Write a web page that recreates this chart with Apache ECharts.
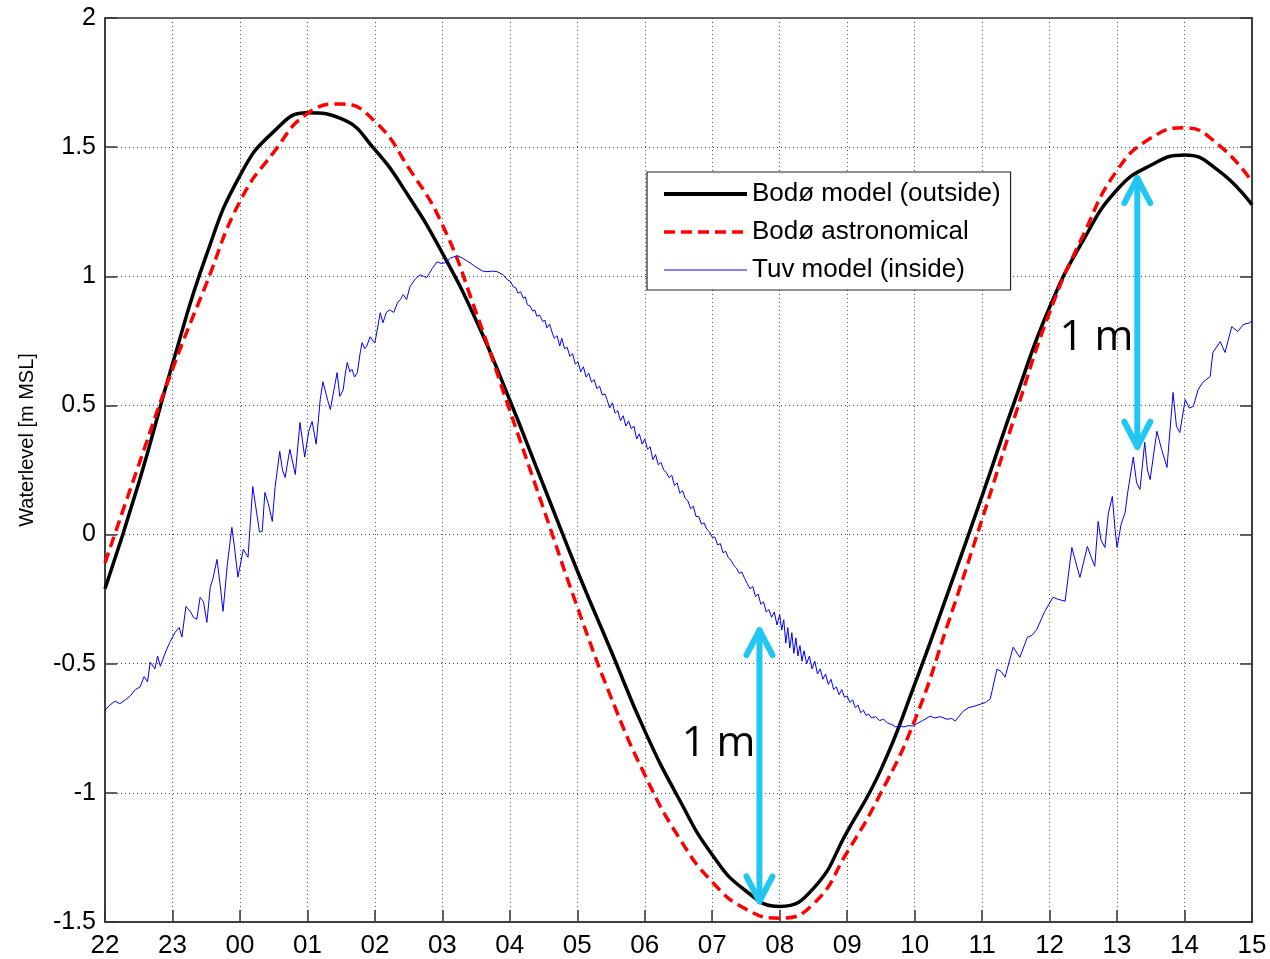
<!DOCTYPE html>
<html>
<head>
<meta charset="utf-8">
<title>Waterlevel</title>
<script src="https://cdn.jsdelivr.net/npm/echarts@6/dist/echarts.min.js"></script>
<style>
  html, body { margin: 0; padding: 0; background: #fff; }
  #main { width: 1270px; height: 959px; }
</style>
</head>
<body>
<div id="main"></div>
<script>
// tick labels of the x axis (hours, 22:00 -> 15:00 next day)
var hourLabels = ['22', '23', '00', '01', '02', '03', '04', '05', '06', '07', '08', '09', '10', '11', '12', '13', '14', '15'];

// hours after 22:00 for the two smooth curves
var modelHours = [0, 0.5, 1, 1.5, 2, 2.5, 3, 3.5, 4, 4.5, 5, 5.5, 6, 6.5, 7, 7.5, 8, 8.5, 9, 9.5,
  10, 10.5, 11, 11.5, 12, 12.5, 13, 13.5, 14, 14.5, 15, 15.5, 16, 16.5, 17];

// Bodø model (outside)
var bodoModel = [-0.21, 0.20, 0.66, 1.08, 1.39, 1.56, 1.633, 1.61, 1.49, 1.31, 1.09, 0.83, 0.52, 0.19, -0.14, -0.45, -0.76, -1.02, -1.24, -1.38,
  -1.44, -1.37, -1.15, -0.91, -0.58, -0.22, 0.15, 0.53, 0.88, 1.14, 1.335, 1.43, 1.47, 1.41, 1.277];

// Bodø astronomical
var bodoAstro = [-0.11, 0.27, 0.64, 0.97, 1.29, 1.48, 1.63, 1.667, 1.60, 1.42, 1.20, 0.86, 0.48, 0.10, -0.28, -0.63, -0.93, -1.17, -1.345, -1.45,
  -1.485, -1.43, -1.23, -1.0, -0.72, -0.34, 0.06, 0.47, 0.86, 1.16, 1.41, 1.535, 1.575, 1.51, 1.366];

// Tuv model (inside) - noisy trace, [hour after 22:00, level]
var tuvTrace = [
  [0, -0.68], [0.07, -0.66], [0.15, -0.645], [0.22, -0.655], [0.3, -0.64], [0.37, -0.626], [0.45, -0.60], [0.52, -0.59], [0.58, -0.55], [0.63, -0.57],
  [0.67, -0.494], [0.74, -0.52], [0.78, -0.47], [0.82, -0.51], [0.89, -0.46], [0.96, -0.417], [1.04, -0.378], [1.1, -0.36], [1.14, -0.397], [1.2, -0.278],
  [1.27, -0.30], [1.31, -0.32], [1.36, -0.328], [1.41, -0.243], [1.46, -0.26], [1.51, -0.34], [1.56, -0.204], [1.6, -0.17], [1.66, -0.096], [1.7, -0.18],
  [1.75, -0.297], [1.81, -0.123], [1.88, 0.028], [1.92, -0.05], [1.97, -0.165], [2.05, -0.057], [2.12, -0.088], [2.19, 0.186], [2.25, 0.08], [2.29, 0.01],
  [2.33, 0.012], [2.37, 0.163], [2.42, 0.12], [2.48, 0.051], [2.52, 0.182], [2.59, 0.322], [2.63, 0.25], [2.67, 0.221], [2.72, 0.3], [2.74, 0.33],
  [2.82, 0.233], [2.89, 0.434], [2.96, 0.30], [3.02, 0.40], [3.07, 0.438], [3.13, 0.35], [3.19, 0.523], [3.23, 0.592], [3.3, 0.52], [3.34, 0.484],
  [3.44, 0.627], [3.48, 0.535], [3.53, 0.56], [3.56, 0.62], [3.59, 0.666], [3.63, 0.63], [3.66, 0.64], [3.7, 0.61], [3.74, 0.627], [3.78, 0.70],
  [3.81, 0.743], [3.85, 0.72], [3.88, 0.73], [3.93, 0.766], [3.97, 0.75], [4.0, 0.743], [4.04, 0.80], [4.08, 0.859], [4.12, 0.82], [4.17, 0.86],
  [4.22, 0.87], [4.28, 0.86], [4.34, 0.90], [4.38, 0.91], [4.42, 0.929], [4.47, 0.91], [4.52, 0.96], [4.6, 0.99], [4.67, 1.006], [4.72, 1.0],
  [4.77, 0.995], [4.85, 1.03], [4.92, 1.056], [4.98, 1.05], [5.04, 1.052], [5.12, 1.07], [5.22, 1.08], [5.3, 1.07], [5.41, 1.052], [5.5, 1.035],
  [5.6, 1.02], [5.66, 1.018], [5.75, 1.02], [5.81, 1.018], [5.9, 1.006], [5.97, 0.985], [6.01, 0.98], [6.05, 0.96], [6.09, 0.955], [6.12, 0.935],
  [6.16, 0.94], [6.2, 0.915], [6.23, 0.92], [6.26, 0.89], [6.3, 0.885], [6.34, 0.865], [6.37, 0.87], [6.4, 0.845], [6.44, 0.85], [6.49, 0.825],
  [6.52, 0.83], [6.55, 0.80], [6.59, 0.815], [6.63, 0.78], [6.66, 0.76], [6.7, 0.77], [6.74, 0.73], [6.77, 0.76], [6.81, 0.72], [6.85, 0.725],
  [6.89, 0.69], [6.93, 0.70], [6.97, 0.66], [7.01, 0.67], [7.05, 0.63], [7.09, 0.65], [7.13, 0.61], [7.17, 0.625], [7.21, 0.59], [7.25, 0.60],
  [7.29, 0.565], [7.33, 0.575], [7.37, 0.54], [7.41, 0.545], [7.44, 0.523], [7.48, 0.49], [7.52, 0.51], [7.56, 0.47], [7.6, 0.48], [7.64, 0.44],
  [7.68, 0.46], [7.72, 0.42], [7.76, 0.44], [7.8, 0.41], [7.84, 0.42], [7.88, 0.37], [7.92, 0.39], [7.96, 0.35], [8.0, 0.37], [8.04, 0.33],
  [8.08, 0.34], [8.12, 0.29], [8.16, 0.31], [8.2, 0.27], [8.24, 0.28], [8.28, 0.25], [8.32, 0.24], [8.36, 0.22], [8.4, 0.23], [8.44, 0.19],
  [8.48, 0.20], [8.52, 0.16], [8.56, 0.17], [8.6, 0.14], [8.64, 0.13], [8.68, 0.10], [8.72, 0.11], [8.76, 0.07], [8.8, 0.07], [8.84, 0.04],
  [8.88, 0.045], [8.92, 0.02], [8.96, 0.01], [9.0, -0.01], [9.04, -0.01], [9.08, -0.04], [9.12, -0.035], [9.16, -0.07], [9.2, -0.065], [9.24, -0.09],
  [9.28, -0.10], [9.32, -0.12], [9.36, -0.13], [9.4, -0.15], [9.44, -0.145], [9.48, -0.17], [9.52, -0.19], [9.56, -0.21], [9.6, -0.20], [9.64, -0.24],
  [9.68, -0.23], [9.72, -0.27], [9.76, -0.26], [9.8, -0.30], [9.84, -0.29], [9.88, -0.32], [9.92, -0.30], [9.96, -0.35], [10.0, -0.31], [10.03, -0.37],
  [10.06, -0.33], [10.09, -0.42], [10.12, -0.36], [10.15, -0.44], [10.18, -0.38], [10.21, -0.46], [10.24, -0.40], [10.27, -0.47], [10.3, -0.43], [10.33, -0.49],
  [10.36, -0.45], [10.4, -0.50], [10.44, -0.47], [10.48, -0.52], [10.52, -0.49], [10.56, -0.54], [10.6, -0.52], [10.64, -0.56], [10.68, -0.54], [10.72, -0.58],
  [10.76, -0.56], [10.8, -0.60], [10.84, -0.59], [10.88, -0.62], [10.92, -0.60], [10.96, -0.63], [11.0, -0.625], [11.04, -0.65], [11.08, -0.64], [11.12, -0.67],
  [11.16, -0.66], [11.2, -0.69], [11.24, -0.68], [11.28, -0.70], [11.32, -0.695], [11.36, -0.71], [11.42, -0.705], [11.48, -0.72], [11.54, -0.715], [11.6, -0.73],
  [11.66, -0.735], [11.72, -0.745], [11.78, -0.74], [11.84, -0.745], [11.9, -0.74], [11.98, -0.741], [12.05, -0.73], [12.12, -0.72], [12.23, -0.703], [12.3, -0.71],
  [12.38, -0.705], [12.48, -0.715], [12.55, -0.712], [12.6, -0.722], [12.72, -0.684], [12.8, -0.67], [12.88, -0.665], [12.97, -0.657], [13.05, -0.65], [13.12, -0.637],
  [13.22, -0.521], [13.28, -0.53], [13.34, -0.552], [13.46, -0.436], [13.52, -0.46], [13.56, -0.475], [13.67, -0.398], [13.74, -0.39], [13.81, -0.367], [13.93, -0.297],
  [14.05, -0.243], [14.12, -0.25], [14.23, -0.258], [14.33, -0.05], [14.38, -0.10], [14.45, -0.166], [14.56, -0.046], [14.62, -0.09], [14.67, -0.123], [14.72, 0.051],
  [14.76, -0.02], [14.82, -0.05], [14.87, 0.08], [14.93, 0.148], [14.97, 0.02], [15.0, -0.05], [15.06, 0.04], [15.12, 0.086], [15.16, 0.167], [15.24, 0.30],
  [15.29, 0.2], [15.34, 0.175], [15.41, 0.357], [15.45, 0.25], [15.49, 0.213], [15.59, 0.40], [15.66, 0.33], [15.74, 0.26], [15.83, 0.55], [15.88, 0.42],
  [15.93, 0.395], [16.01, 0.523], [16.07, 0.49], [16.13, 0.496], [16.2, 0.56], [16.27, 0.589], [16.38, 0.612], [16.42, 0.705], [16.53, 0.747], [16.6, 0.705],
  [16.7, 0.805], [16.79, 0.786], [16.87, 0.813], [16.97, 0.82], [17, 0.83]
];

// "1 m" arrows (hour, top level, bottom level, label level)
var arrowHours = [9.70, 15.30];
var arrowTops = [-0.37, 1.38];
var arrowBottoms = [-1.42, 0.34];
var arrowLabelLevels = [-0.81, 0.76];

function pairs(xs, ys) {
  return xs.map(function (x, i) { return [x, ys[i]]; });
}

var chart = echarts.init(document.getElementById('main'), null, { renderer: 'canvas' });
var axisFont = 'Arial, "Liberation Sans", sans-serif';

var option = {
  backgroundColor: '#ffffff',
  animation: false,
  grid: {
    left: 105, right: 18, top: 18, bottom: 36,
    show: true, borderColor: '#333', borderWidth: 1.5
  },
  legend: {
    orient: 'vertical',
    left: 647, top: 172,
    padding: [9, 10, 7, 15],
    itemGap: 12,
    itemWidth: 83,
    itemHeight: 14,
    backgroundColor: '#fff',
    borderColor: '#222',
    borderWidth: 1.2,
    borderRadius: 0,
    itemStyle: { opacity: 0 },
    textStyle: { fontFamily: axisFont, fontSize: 26, color: '#000', lineHeight: 26 },
    data: [
      { name: 'Bodø model (outside)', lineStyle: { width: 4 } },
      { name: 'Bodø astronomical', lineStyle: { width: 3.5 } },
      { name: 'Tuv model (inside)', lineStyle: { width: 1 } }
    ]
  },
  xAxis: {
    type: 'value',
    min: 0, max: 17, interval: 1,
    axisLine: { show: true, onZero: false, lineStyle: { color: '#333', width: 1.5 } },
    axisTick: { show: true, inside: true, length: 12, lineStyle: { color: '#333', width: 1.5 } },
    axisLabel: {
      fontFamily: axisFont, fontSize: 26, color: '#000', margin: 11,
      formatter: function (v) { return hourLabels[Math.round(v)]; }
    },
    splitLine: { show: true, lineStyle: { color: '#444', width: 1, type: [1, 3] } }
  },
  yAxis: [{
    type: 'value',
    min: -1.5, max: 2, interval: 0.5,
    name: 'Waterlevel [m MSL]',
    nameLocation: 'middle',
    nameGap: 68,
    nameTextStyle: { fontFamily: axisFont, fontSize: 20, color: '#000', padding: [0, 0, 0, 60] },
    axisLine: { show: true, onZero: false, lineStyle: { color: '#333', width: 1.5 } },
    axisTick: { show: true, inside: true, length: 12, lineStyle: { color: '#333', width: 1.5 } },
    axisLabel: { fontFamily: axisFont, fontSize: 25, color: '#000', margin: 9 },
    splitLine: { show: true, lineStyle: { color: '#444', width: 1, type: [1, 3] } }
  }, {
    type: 'value',
    position: 'right',
    min: -1.5, max: 2, interval: 0.5,
    axisLine: { show: true, onZero: false, lineStyle: { color: '#333', width: 1.5 } },
    axisTick: { show: true, inside: true, length: 12, lineStyle: { color: '#333', width: 1.5 } },
    axisLabel: { show: false },
    splitLine: { show: false }
  }],
  series: [{
    name: 'Bodø model (outside)',
    type: 'line',
    smooth: 0.5,
    symbol: 'none',
    data: pairs(modelHours, bodoModel),
    lineStyle: { color: '#000', width: 3.5 },
    itemStyle: { color: '#000' }
  }, {
    name: 'Bodø astronomical',
    type: 'line',
    smooth: 0.5,
    symbol: 'none',
    data: pairs(modelHours, bodoAstro),
    lineStyle: { color: '#ff0000', width: 3.5, type: [11, 6] },
    itemStyle: { color: '#ff0000' }
  }, {
    name: 'Tuv model (inside)',
    type: 'line',
    symbol: 'none',
    data: tuvTrace,
    lineStyle: { color: '#0000ff', width: 1 },
    itemStyle: { color: '#0000ff' }
  }]
};
chart.setOption(option);

// double-headed arrows and "1 m" labels, placed through the chart's scales
var arrowColor = '#22c6f2';
var elements = [];
arrowHours.forEach(function (h, i) {
  var top = chart.convertToPixel({ gridIndex: 0 }, [h, arrowTops[i]]);
  var bot = chart.convertToPixel({ gridIndex: 0 }, [h, arrowBottoms[i]]);
  var lab = chart.convertToPixel({ gridIndex: 0 }, [h, arrowLabelLevels[i]]);
  var st = { stroke: arrowColor, lineWidth: 6, lineCap: 'round', lineJoin: 'round', fill: null };
  elements.push({ type: 'line', shape: { x1: top[0], y1: top[1], x2: bot[0], y2: bot[1] }, style: st, z: 100 });
  elements.push({ type: 'polyline', shape: { points: [[top[0] - 13, top[1] + 25], [top[0], top[1]], [top[0] + 13, top[1] + 25]] }, style: st, z: 100 });
  elements.push({ type: 'polyline', shape: { points: [[bot[0] - 13, bot[1] - 25], [bot[0], bot[1]], [bot[0] + 13, bot[1] - 25]] }, style: st, z: 100 });
  elements.push({
    type: 'text', x: lab[0] - 4, y: lab[1], z: 100,
    style: { text: '1 m', fill: '#000', font: '42px "Open Sans", sans-serif', align: 'right', verticalAlign: 'middle' }
  });
});
chart.setOption({ graphic: elements });
</script>
</body>
</html>
